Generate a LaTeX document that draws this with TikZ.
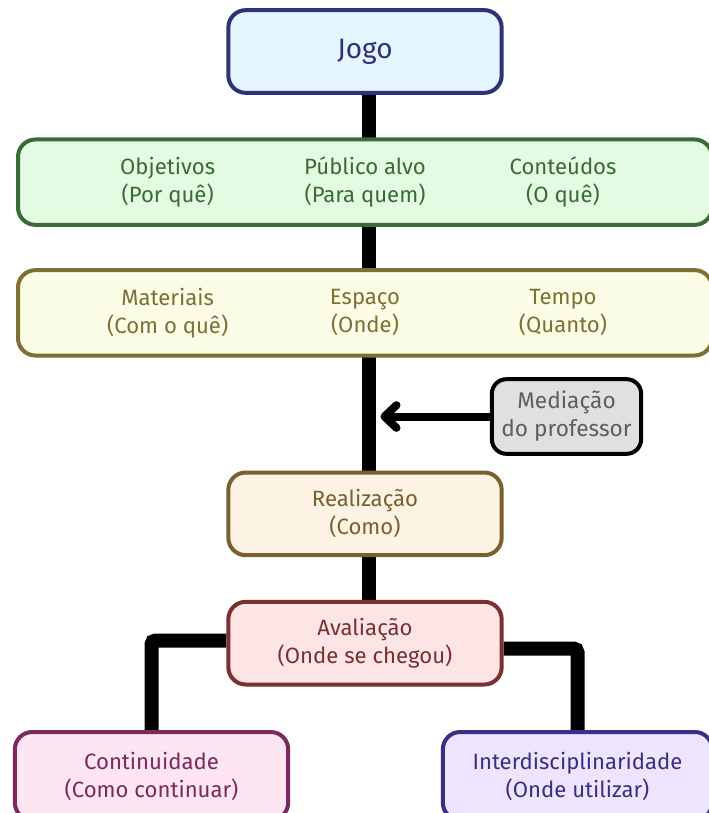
\documentclass[tikz,border=0pt]{standalone}
\usepackage{fontspec}
\setmainfont{Fira Sans}
\usetikzlibrary{positioning,arrows.meta,backgrounds}

\definecolor{azulF}{HTML}{E4F5FD}
\definecolor{azulB}{HTML}{2E3278}
\definecolor{verdeF}{HTML}{E3FBE3}
\definecolor{verdeB}{HTML}{3A6B35}
\definecolor{amareloF}{HTML}{FBFDE6}
\definecolor{amareloB}{HTML}{7C7035}
\definecolor{cinzaF}{HTML}{E0E0E0}
\definecolor{cinzaT}{HTML}{5E5E5E}
\definecolor{laranjaF}{HTML}{FDF3E5}
\definecolor{laranjaB}{HTML}{7A6030}
\definecolor{vermelhoF}{HTML}{FDE5E5}
\definecolor{vermelhoB}{HTML}{7A3030}
\definecolor{rosaF}{HTML}{FDE5F1}
\definecolor{rosaB}{HTML}{7A2A5E}
\definecolor{roxoF}{HTML}{EDE5FD}
\definecolor{roxoB}{HTML}{3A2F85}

\begin{document}
\begin{tikzpicture}[
  x=0.75pt, y=-0.75pt,
  node distance=32pt,
  caixa/.style={rectangle, draw, line width=3pt, rounded corners=13pt,
                minimum width=205pt, minimum height=62pt, align=center,
                font=\fontsize{16.6}{21}\selectfont},
  faixa/.style={caixa, minimum width=520.5pt, minimum height=64pt},
  rotulo/.style={align=center, font=\fontsize{16.6}{21}\selectfont},
  ligacao/.style={line width=10.5pt, rounded corners=3pt},
  seta/.style={line width=6pt, -{Straight Barb[length=9pt, width=17pt, round]}}
]
\useasboundingbox (0,0) rectangle (708,813);

\node[caixa, fill=azulF, draw=azulB, text=azulB, font=\fontsize{21}{25}\selectfont] (jogo) at (365,51.5) {Jogo};
\node[faixa, fill=verdeF, draw=verdeB, below=of jogo] (metas) {};
\node[rotulo, text=verdeB] (objetivos) at ([xshift=-148pt]metas.center) {Objetivos\\(Por quê)};
\node[rotulo, text=verdeB] (publico) at (metas.center) {Público alvo\\(Para quem)};
\node[rotulo, text=verdeB] (conteudos) at ([xshift=148.5pt]metas.center) {Conteúdos\\(O quê)};

\node[faixa, fill=amareloF, draw=amareloB, below=31pt of metas] (recursos) {};
\node[rotulo, text=amareloB] (materiais) at ([xshift=-148pt]recursos.center) {Materiais\\(Com o quê)};
\node[rotulo, text=amareloB] (espaco) at (recursos.center) {Espaço\\(Onde)};
\node[rotulo, text=amareloB] (tempo) at ([xshift=148.5pt]recursos.center) {Tempo\\(Quanto)};

\node[caixa, fill=laranjaF, draw=laranjaB, text=laranjaB, below=84.75pt of recursos] (realizacao) {Realização\\(Como)};
\node[caixa, fill=vermelhoF, draw=vermelhoB, text=vermelhoB, below=of realizacao] (avaliacao) {Avaliação\\(Onde se chegou)};

\node[caixa, fill=cinzaF, draw=black, text=cinzaT, minimum width=112pt, minimum height=56pt,
      rounded corners=11pt, font=\fontsize{17}{21}\selectfont] (mediacao) at (566.5,416.5) {Mediação\\do professor};

\node[caixa, fill=rosaF, draw=rosaB, text=rosaB, minimum height=66pt] (continuidade) at (151.5,776) {Continuidade\\(Como continuar)};
\node[caixa, fill=roxoF, draw=roxoB, text=roxoB, minimum height=66pt, minimum width=202pt] (interdisc) at (577.5,776) {Interdisciplinaridade\\(Onde utilizar)};

\coordinate (eixo) at (380.5,416.5);

\begin{scope}[on background layer]
\draw[ligacao] ([xshift=3pt]jogo.south) -- ([xshift=3pt]avaliacao.north);
\draw[ligacao] ([yshift=2pt]avaliacao.west) -| (continuidade.north);
\draw[ligacao] ([yshift=-4pt]avaliacao.east) -| (interdisc.north);
\end{scope}
\draw[seta] (mediacao.west) -- (eixo);
\end{tikzpicture}
\end{document}
